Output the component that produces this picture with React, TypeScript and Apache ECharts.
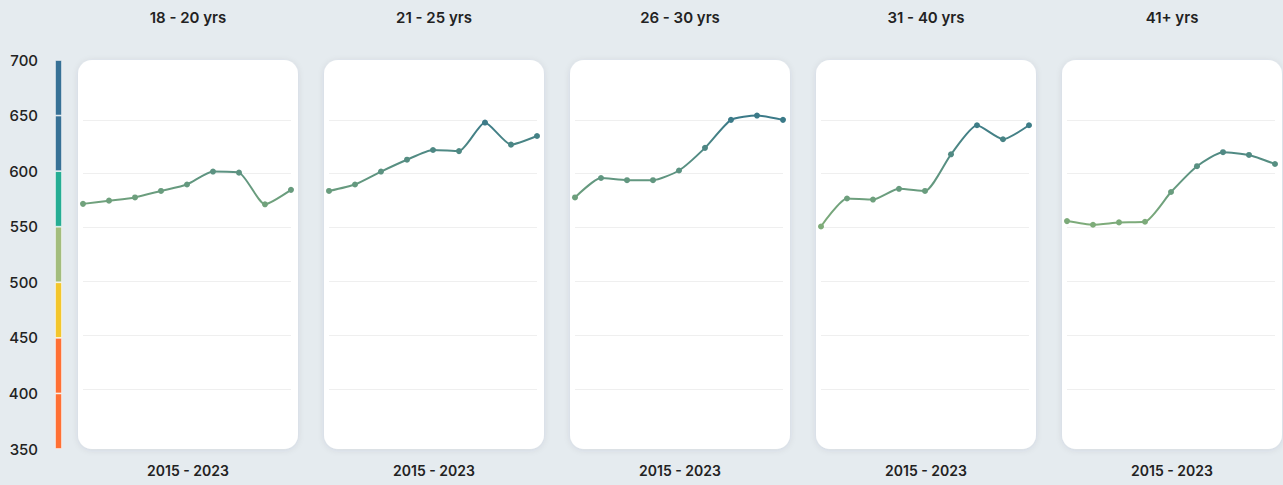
import React, { useEffect, useRef } from "react";
import * as echarts from "echarts";

const years = ["2015", "2016", "2017", "2018", "2019", "2020", "2021", "2022", "2023"];
const groups = ["18 - 20 yrs", "21 - 25 yrs", "26 - 30 yrs", "31 - 40 yrs", "41+ yrs"];
const age18to20 = [572, 575, 578, 584, 590, 602, 601, 571.6, 585];
const age21to25 = [584, 590, 602, 613, 622, 621, 647.5, 627, 635];
const age26to30 = [578, 596, 594, 594, 603, 624, 650, 654, 650];
const age31to40 = [551, 577, 576, 586, 584, 618, 645, 632, 645];
const age41plus = [556, 552.6, 554.8, 555.4, 583, 607, 620, 617.4, 609];
const seriesData = [age18to20, age21to25, age26to30, age31to40, age41plus];
const periodLabel = "2015 - 2023";
const bandBase = 350;
const bandValues = [50, 50, 50, 50, 50, 50, 50];
const bandColors = ["#ff7034", "#ff7034", "#f3c62c", "#a3bd7d", "#25ad94", "#377196", "#377196"];

const FONT = "Inter, 'Noto Sans', sans-serif";

export default function App() {
  const ref = useRef<HTMLDivElement>(null);
  useEffect(() => {
    document.body.style.margin = "0";
    if (!ref.current) return;
    const chart = echarts.init(ref.current, undefined, { renderer: "svg" });
    const panelX0 = 78;
    const step = 246;
    const panelW = 220;
    const grids: any[] = [];
    const xAxes: any[] = [];
    const yAxes: any[] = [];
    const series: any[] = [];
    const graphics: any[] = [];

    seriesData.forEach((data, i) => {
      const px = panelX0 + step * i;
      graphics.push({
        type: "rect",
        z: -10,
        shape: { x: px, y: 60, width: panelW, height: 389, r: 14 },
        style: { fill: "#ffffff", shadowBlur: 6, shadowColor: "rgba(40,60,80,0.10)", shadowOffsetY: 1 },
        silent: true,
      });
      graphics.push({
        type: "text",
        x: px + panelW / 2,
        y: 17,
        style: {
          text: groups[i],
          font: `600 15px ${FONT}`,
          fill: "#222222",
          textAlign: "center",
          textVerticalAlign: "middle",
        },
      });
      graphics.push({
        type: "text",
        x: px + panelW / 2,
        y: 470,
        style: {
          text: periodLabel,
          font: `600 14px ${FONT}`,
          fill: "#222222",
          textAlign: "center",
          textVerticalAlign: "middle",
        },
      });
      grids.push({ left: px + 5, width: 208, top: 66, height: 377 });
      xAxes.push({
        type: "category",
        gridIndex: i,
        data: years,
        boundaryGap: false,
        show: false,
      });
      yAxes.push({
        type: "value",
        gridIndex: i,
        min: 350,
        max: 700,
        interval: 50,
        axisLabel: { show: false },
        axisLine: { show: false },
        axisTick: { show: false },
        splitLine: {
          show: true,
          lineStyle: {
            color: ["transparent", "#efefef", "#efefef", "#efefef", "#efefef", "#efefef", "#efefef", "transparent"],
            width: 1,
          },
        },
      });
      series.push({
        type: "line",
        xAxisIndex: i,
        yAxisIndex: i,
        data,
        smooth: 0.2,
        symbol: "circle",
        symbolSize: 6,
        lineStyle: { width: 2 },
      });
    });

    // left colour scale grid
    const li = seriesData.length;
    grids.push({ left: 55, width: 7, top: 60, height: 389 });
    xAxes.push({ type: "category", gridIndex: li, data: ["band"], show: false });
    yAxes.push({
      type: "value",
      gridIndex: li,
      min: 350,
      max: 700,
      interval: 50,
      axisLine: { show: false },
      axisTick: { show: false },
      splitLine: { show: false },
      axisLabel: { color: "#222222", fontSize: 15, fontWeight: 500, fontFamily: FONT, margin: 17 },
    });
    series.push({
      type: "bar",
      xAxisIndex: li,
      yAxisIndex: li,
      stack: "band",
      barWidth: 7,
      data: [bandBase],
      itemStyle: { color: "transparent" },
      silent: true,
    });
    bandValues.forEach((v, k) => {
      series.push({
        type: "bar",
        xAxisIndex: li,
        yAxisIndex: li,
        stack: "band",
        barWidth: 7,
        data: [v],
        itemStyle: { color: bandColors[k], borderColor: "rgba(255,255,255,0.75)", borderWidth: 0.8 },
        silent: true,
      });
    });

    chart.setOption({
      animation: false,
      backgroundColor: "#e5ebef",
      grid: grids,
      xAxis: xAxes,
      yAxis: yAxes,
      visualMap: {
        type: "continuous",
        show: false,
        min: 550,
        max: 650,
        seriesIndex: [0, 1, 2, 3, 4],
        inRange: { color: ["#80ad79", "#3b7a88"] },
      },
      graphic: graphics,
      series,
    });
    return () => chart.dispose();
  }, []);
  return <div ref={ref} style={{ width: 1283, height: 485 }} />;
}
